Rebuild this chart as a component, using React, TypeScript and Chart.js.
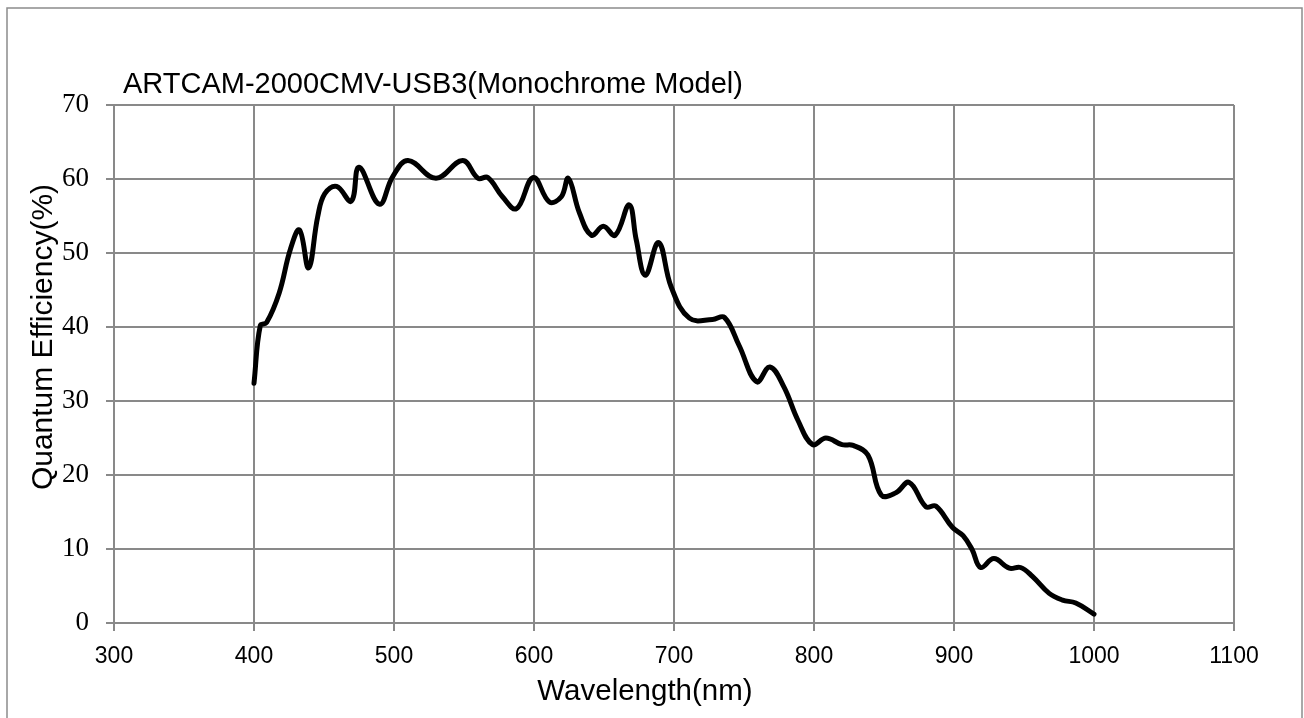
import React, { useEffect, useRef } from "react";
import { Chart, registerables } from "chart.js";

Chart.register(...registerables);

const CHART_TITLE = "ARTCAM-2000CMV-USB3(Monochrome Model)";
const X_TITLE = "Wavelength(nm)";
const Y_TITLE = "Quantum Efficiency(%)";

const X_MIN = 300;
const X_MAX = 1100;
const X_STEP = 100;
const Y_MIN = 0;
const Y_MAX = 70;
const Y_STEP = 10;

const wavelengths = [
  400, 404.5, 409, 418, 426, 432.5, 439, 445.5, 450.5, 459, 469.5, 475, 489.5,
  499, 510, 530, 549, 560, 567, 577.5, 587.5, 599.5, 611, 619.5, 624.5, 632.5,
  641, 649.5, 658, 668, 673, 679.5, 689, 698, 711, 727.5, 736, 746.5, 759,
  768.5, 778.5, 788.5, 799, 808.5, 820, 828, 838.5, 848, 858.5, 868, 880, 887,
  899, 906.5, 913, 919, 928.5, 939.5, 947.5, 956, 968, 977.5, 987, 1000,
];

const efficiency = [
  32.4, 40.2, 40.6, 44.6, 50.5, 53.1, 48.0, 54.9, 58.0, 59.0, 57.0, 61.6, 56.6,
  60.3, 62.5, 60.1, 62.5, 60.1, 60.2, 57.6, 56.0, 60.2, 56.9, 57.6, 60.1, 55.4,
  52.4, 53.6, 52.4, 56.5, 51.8, 47.0, 51.4, 45.4, 41.2, 41.0, 41.3, 37.5, 32.6,
  34.6, 31.9, 27.4, 24.1, 25.0, 24.1, 24.0, 22.7, 17.3, 17.6, 19.0, 15.7, 15.8,
  12.9, 11.8, 9.9, 7.5, 8.7, 7.4, 7.5, 6.3, 4.0, 3.1, 2.7, 1.2,
];

const GRID = "#898989";
const SANS = '"Liberation Sans", Arial, sans-serif';
const SERIF = '"Liberation Serif", "DejaVu Serif", serif';

const framePlugin = {
  id: "frame",
  beforeDraw(chart: any) {
    const { ctx, width, height } = chart;
    ctx.save();
    ctx.fillStyle = "#ffffff";
    ctx.fillRect(0, 0, width, height);
    ctx.strokeStyle = "#8c8c8c";
    ctx.lineWidth = 1.5;
    ctx.strokeRect(7, 8, 1295, height + 20);
    ctx.restore();
  },
  afterDraw(chart: any) {
    const { ctx } = chart;
    ctx.save();
    ctx.fillStyle = "#000000";
    ctx.textBaseline = "alphabetic";
    ctx.font = `29px ${SANS}`;
    ctx.textAlign = "left";
    ctx.fillText(CHART_TITLE, 123, 93);

    ctx.font = `29.5px ${SANS}`;
    ctx.textAlign = "center";
    ctx.fillText(X_TITLE, 645, 700);

    ctx.font = `30px ${SANS}`;
    ctx.translate(52, 337);
    ctx.rotate(-Math.PI / 2);
    ctx.textAlign = "center";
    ctx.fillText(Y_TITLE, 0, 0);
    ctx.restore();
  },
};

export default function App() {
  const ref = useRef<HTMLCanvasElement>(null);

  useEffect(() => {
    const points = wavelengths.map((x, i) => ({ x, y: efficiency[i] }));
    const chart = new Chart(ref.current as HTMLCanvasElement, {
      type: "line",
      data: {
        datasets: [
          {
            data: points,
            borderColor: "#000000",
            borderWidth: 5,
            pointRadius: 0,
            tension: 0.4,
            fill: false,
            borderCapStyle: "round",
            borderJoinStyle: "round",
          },
        ],
      },
      options: {
        animation: false,
        responsive: true,
        maintainAspectRatio: false,
        layout: { padding: { left: 0, top: 105, right: 70, bottom: 0 } },
        plugins: {
          legend: { display: false },
          tooltip: { enabled: false },
          title: { display: false },
        },
        scales: {
          x: {
            type: "linear",
            min: X_MIN,
            max: X_MAX,
            ticks: {
              stepSize: X_STEP,
              color: "#000000",
              font: { family: SANS, size: 23 },
              padding: 12,
              maxRotation: 0,
              callback: (v: any) => String(v),
            },
            grid: { color: GRID, lineWidth: 2, tickLength: 8, drawTicks: true },
            border: { color: GRID, width: 2 },
            afterFit: (s: any) => {
              s.height = 95;
            },
          },
          y: {
            type: "linear",
            min: Y_MIN,
            max: Y_MAX,
            ticks: {
              stepSize: Y_STEP,
              color: "#000000",
              font: { family: SERIF, size: 27 },
              padding: 17,
              callback: (v: any) => String(v),
            },
            grid: { color: GRID, lineWidth: 2, tickLength: 8, drawTicks: true },
            border: { color: GRID, width: 2 },
            afterFit: (s: any) => {
              s.width = 114;
            },
          },
        },
      },
      plugins: [framePlugin],
    });
    return () => chart.destroy();
  }, []);

  return (
    <div style={{ position: "absolute", left: 0, top: 0, width: 1304, height: 718 }}>
      <canvas ref={ref} />
    </div>
  );
}
